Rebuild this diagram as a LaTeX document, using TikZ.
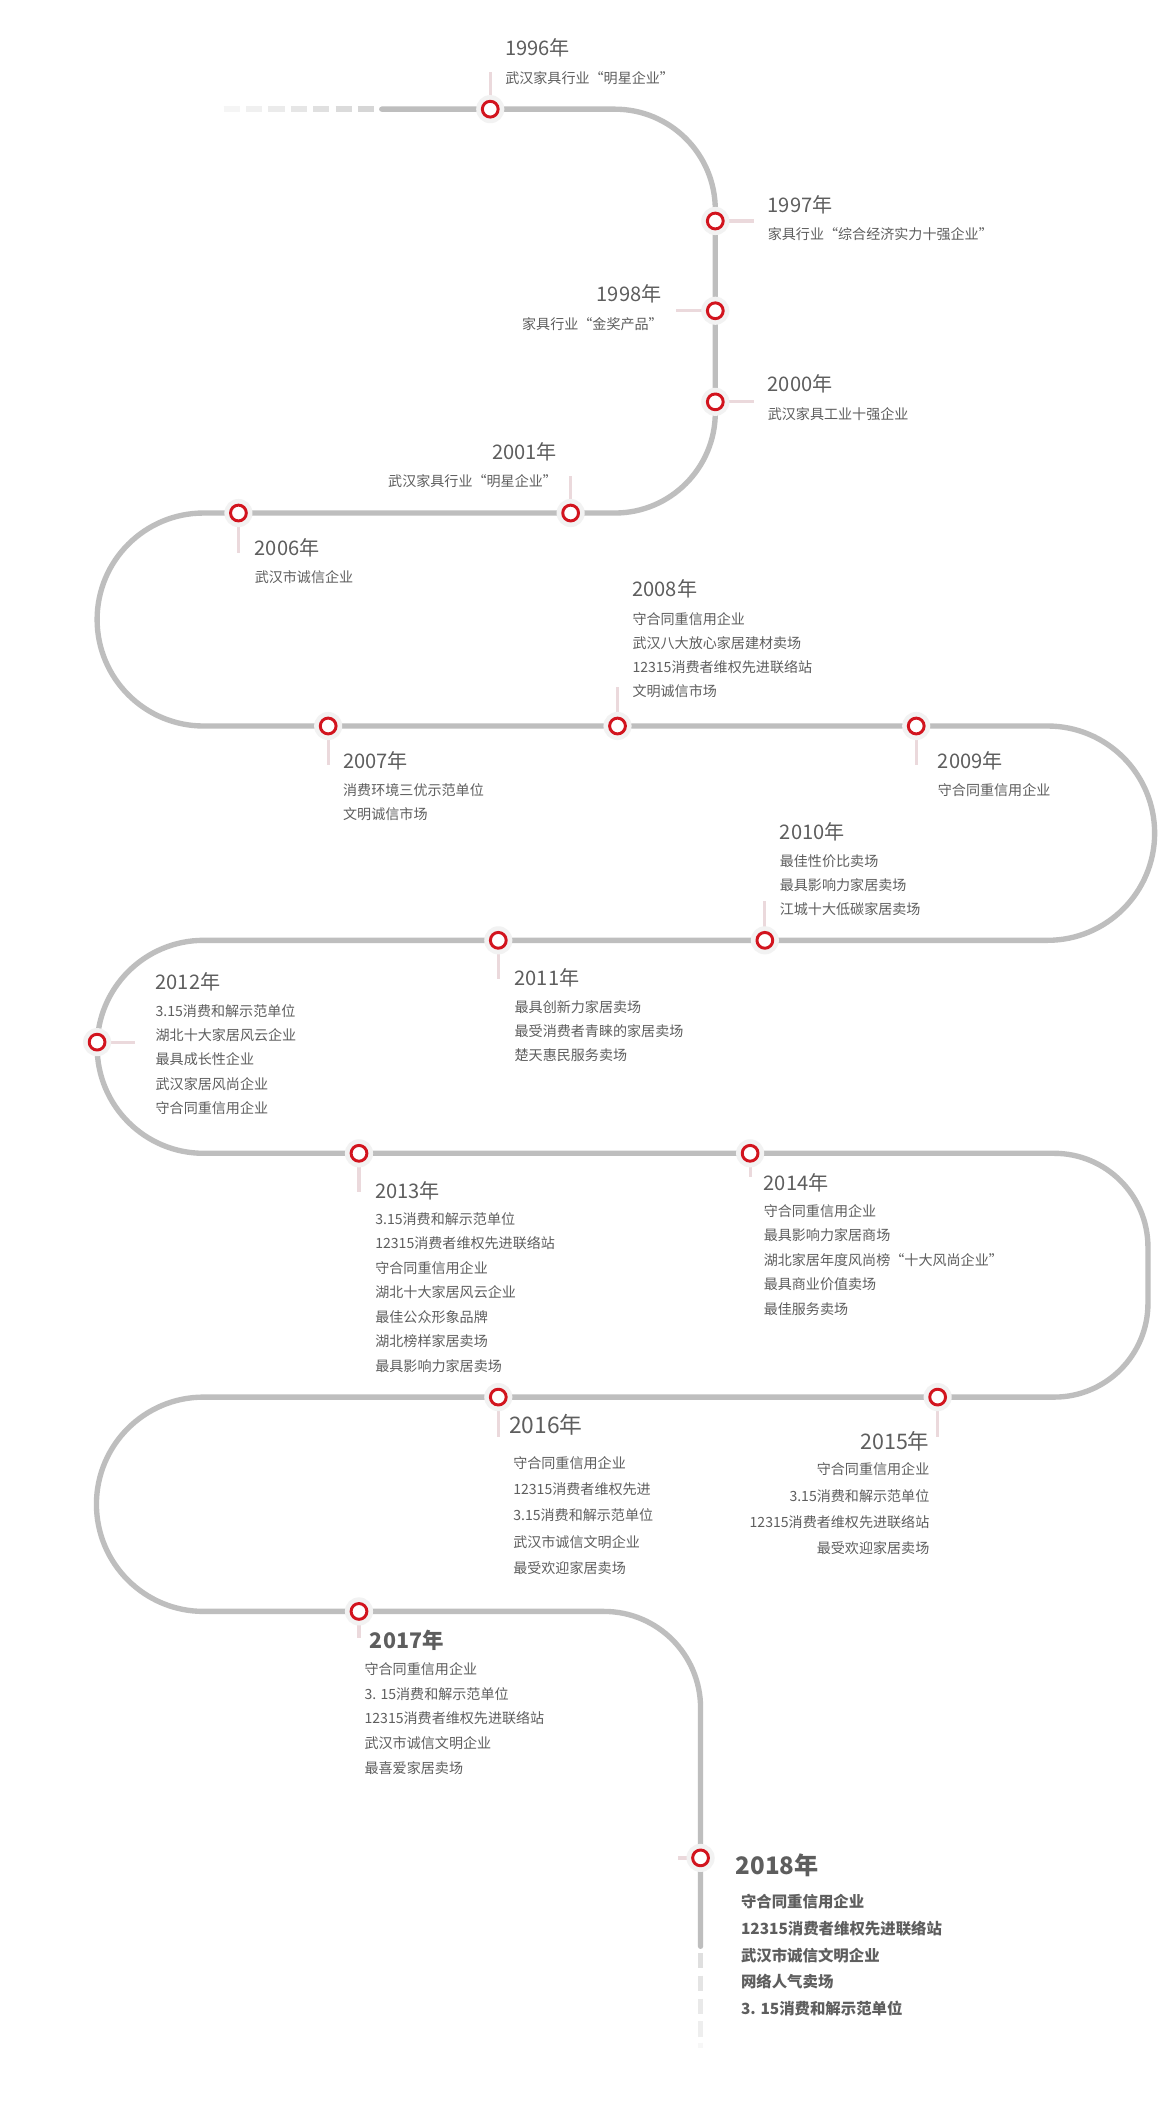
\documentclass[tikz,border=0pt]{standalone}
\usepackage{fontspec}
\setmainfont{Noto Sans CJK SC}
\definecolor{duong}{HTML}{BEBEBE}
\definecolor{vongdo}{HTML}{D2141E}
\definecolor{vach}{HTML}{EBD9DC}
\definecolor{nen}{HTML}{F2F2F2}
\definecolor{chu}{HTML}{5E5E5E}
\begin{document}
\begin{tikzpicture}[x=1pt, y=-1pt, line join=round, line cap=round,
	nam/.style={inner sep=0, text=chu, font=\fontsize{15}{18}\selectfont},
	mota/.style={inner sep=0, text=chu, font=\fontsize{10.5}{18}\selectfont},
	vach/.style={draw=vach, line width=2.4pt, line cap=butt}]
				\fill[white] (0,0) rectangle (866,1570);
				\useasboundingbox (0,0) rectangle (866,1570);
				% duong di
				\foreach \i [evaluate=\i as \m using int(15+8*\i)] in {0,...,6}
					\draw[duong!\m, line width=4pt, line cap=butt] (167+16.7*\i,81.5) -- ++(12,0);
				\draw[duong, line width=4pt] (285,81.5) -- (459,81.5)
					arc[start angle=-90, end angle=0, radius=75] -- (534,308)
					arc[start angle=0, end angle=90, radius=75] -- (152,383)
					arc[start angle=-90, end angle=-270, radius=79.5] -- (782,542)
					arc[start angle=-90, end angle=90, radius=80] -- (152,702)
					arc[start angle=-90, end angle=-270, radius=79.5] -- (787,861)
					arc[start angle=-90, end angle=0, radius=70] -- (857,973)
					arc[start angle=0, end angle=90, radius=70] -- (152,1043)
					arc[start angle=-90, end angle=-270, radius=80] -- (451,1203)
					arc[start angle=-90, end angle=0, radius=72] -- (523,1453);
				\foreach \y [count=\i, evaluate=\i as \m using int(58-8*\i)] in {1458,1475,1492,1509}
					\draw[duong!\m, line width=4pt, line cap=butt] (523,\y) -- ++(0,11.5);
				\draw[duong!12, line width=4pt, line cap=butt] (523,1525) -- (523,1529);
				% cac moc
				\coordinate (m1996) at (366,81.5);
				\coordinate (m1997) at (534,165);
				\coordinate (m1998) at (534,232);
				\coordinate (m2000) at (534,300);
				\coordinate (m2001) at (426,383);
				\coordinate (m2006) at (178,383);
				\coordinate (m2007) at (245,542);
				\coordinate (m2008) at (461,542);
				\coordinate (m2009) at (684,542);
				\coordinate (m2010) at (571,702);
				\coordinate (m2011) at (372,702);
				\coordinate (m2012) at (72.5,778);
				\coordinate (m2013) at (268,861);
				\coordinate (m2014) at (560,861);
				\coordinate (m2015) at (700,1043);
				\coordinate (m2016) at (372,1043);
				\coordinate (m2017) at (268,1203);
				\coordinate (m2018) at (523,1387);
				\draw[vach] (m1996) -- ++(0,-28);
				\draw[vach] (m1997) -- ++(29,0);
				\draw[vach] (m1998) -- ++(-29,0);
				\draw[vach] (m2000) -- ++(29,0);
				\draw[vach] (m2001) -- ++(0,-28);
				\draw[vach] (m2006) -- ++(0,30);
				\draw[vach] (m2007) -- ++(0,29);
				\draw[vach] (m2008) -- ++(0,-29);
				\draw[vach] (m2009) -- ++(0,29);
				\draw[vach] (m2010) -- ++(0,-29);
				\draw[vach] (m2011) -- ++(0,29);
				\draw[vach] (m2012) -- ++(28,0);
				\draw[vach] (m2013) -- ++(0,29);
				\draw[vach] (m2014) -- ++(0,18);
				\draw[vach] (m2015) -- ++(0,30);
				\draw[vach] (m2016) -- ++(0,30);
				\draw[vach] (m2017) -- ++(0,20);
				\draw[vach] (m2018) -- ++(-17,0);
				\foreach \moc in {m1996,m1997,m1998,m2000,m2001,m2006,m2007,m2008,m2009,m2010,m2011,m2012,m2013,m2014,m2015,m2016,m2017,m2018}{
					\fill[nen] (\moc) circle(10.5);
					\draw[vongdo, fill=white, line width=2.2pt] (\moc) circle(5.9);
				}
				% chu
				\node[nam, anchor=base west] (n1996) at (377,41.4) {1996年};
				\node[mota, anchor=base west] (d1996) at (377,62) {武汉家具行业“明星企业”};
				\node[nam, anchor=base west] (n1997) at (573,158.4) {1997年};
				\node[mota, anchor=base west] (d1997) at (573,179) {家具行业“综合经济实力十强企业”};
				\node[nam, anchor=base east] (n1998) at (494,225.4) {1998年};
				\node[mota, anchor=base east] (d1998) at (495,246) {家具行业“金奖产品”};
				\node[nam, anchor=base west] (n2000) at (573,292.4) {2000年};
				\node[mota, anchor=base west] (d2000) at (573,313) {武汉家具工业十强企业};
				\node[nam, anchor=base east] (n2001) at (416,343.4) {2001年};
				\node[mota, anchor=base east] (d2001) at (416,363) {武汉家具行业“明星企业”};
				\node[nam, anchor=base west] (n2006) at (190,414.4) {2006年};
				\node[mota, anchor=base west] (d2006) at (190,435) {武汉市诚信企业};
				\node[nam, anchor=base west] (n2008) at (472,445.4) {2008年};
				\foreach \dong [count=\i] in {守合同重信用企业,武汉八大放心家居建材卖场,12315消费者维权先进联络站,文明诚信市场}
					\node[mota, anchor=base west] (d2008-\i) at (472,{466+18*(\i-1)}) {\dong};
				\node[nam, anchor=base west] (n2007) at (256,573.4) {2007年};
				\foreach \dong [count=\i] in {消费环境三优示范单位,文明诚信市场}
					\node[mota, anchor=base west] (d2007-\i) at (256,{594+18*(\i-1)}) {\dong};
				\node[nam, anchor=base west] (n2009) at (700,573.4) {2009年};
				\node[mota, anchor=base west] (d2009) at (700,594) {守合同重信用企业};
				\node[nam, anchor=base west] (n2010) at (582,626.4) {2010年};
				\foreach \dong [count=\i] in {最佳性价比卖场,最具影响力家居卖场,江城十大低碳家居卖场}
					\node[mota, anchor=base west] (d2010-\i) at (582,{647+18*(\i-1)}) {\dong};
				\node[nam, anchor=base west] (n2011) at (384,735.4) {2011年};
				\foreach \dong [count=\i] in {最具创新力家居卖场,最受消费者青睐的家居卖场,楚天惠民服务卖场}
					\node[mota, anchor=base west] (d2011-\i) at (384,{756+18*(\i-1)}) {\dong};
				\node[nam, anchor=base west] (n2012) at (116,738.4) {2012年};
				\foreach \dong [count=\i] in {3.15消费和解示范单位,湖北十大家居风云企业,最具成长性企业,武汉家居风尚企业,守合同重信用企业}
					\node[mota, anchor=base west] (d2012-\i) at (116,{759+18*(\i-1)}) {\dong};
				\node[nam, anchor=base west] (n2013) at (280,894.4) {2013年};
				\foreach \dong [count=\i] in {3.15消费和解示范单位,12315消费者维权先进联络站,守合同重信用企业,湖北十大家居风云企业,最佳公众形象品牌,湖北榜样家居卖场,最具影响力家居卖场}
					\node[mota, anchor=base west] (d2013-\i) at (280,{914+18.3*(\i-1)}) {\dong};
				\node[nam, anchor=base west] (n2014) at (570,888.4) {2014年};
				\foreach \dong [count=\i] in {守合同重信用企业,最具影响力家居商场,湖北家居年度风尚榜“十大风尚企业”,最具商业价值卖场,最佳服务卖场}
					\node[mota, anchor=base west] (d2014-\i) at (570,{908+18.3*(\i-1)}) {\dong};
				\node[nam, anchor=base west, font=\fontsize{17}{20}\selectfont] (n2016) at (380,1070) {2016年};
				\foreach \dong [count=\i] in {守合同重信用企业,12315消费者维权先进,3.15消费和解示范单位,武汉市诚信文明企业,最受欢迎家居卖场}
					\node[mota, anchor=base west] (d2016-\i) at (383,{1096+19.7*(\i-1)}) {\dong};
				\node[nam, anchor=base east, font=\fontsize{16}{19}\selectfont] (n2015) at (694,1081.8) {2015年};
				\foreach \dong [count=\i] in {守合同重信用企业,3.15消费和解示范单位,12315消费者维权先进联络站,最受欢迎家居卖场}
					\node[mota, anchor=base east] (d2015-\i) at (694,{1101+19.7*(\i-1)}) {\dong};
				\node[nam, anchor=base west, font=\fontsize{16}{19}\selectfont\bfseries] (n2017) at (276,1230.8) {2017年};
				\foreach \dong [count=\i] in {守合同重信用企业,3. 15消费和解示范单位,12315消费者维权先进联络站,武汉市诚信文明企业,最喜爱家居卖场}
					\node[mota, anchor=base west] (d2017-\i) at (272,{1250+18.5*(\i-1)}) {\dong};
				\node[nam, anchor=base west, font=\fontsize{18}{21}\selectfont\bfseries] (n2018) at (549,1399.5) {2018年};
				\foreach \dong [count=\i] in {守合同重信用企业,12315消费者维权先进联络站,武汉市诚信文明企业,网络人气卖场,3. 15消费和解示范单位}
					\node[mota, anchor=base west, font=\fontsize{11.5}{14}\selectfont\bfseries] (d2018-\i) at (553,{1424.4+19.8*(\i-1)}) {\dong};
			\end{tikzpicture}
\end{document}
